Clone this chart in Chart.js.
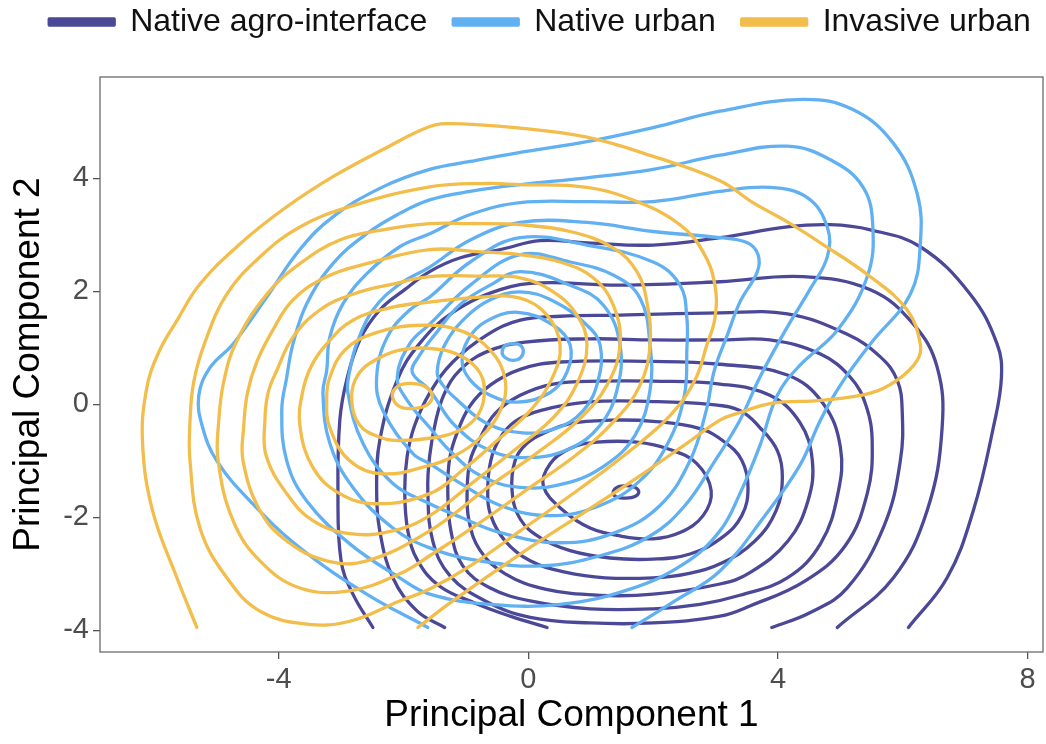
<!DOCTYPE html>
<html>
<head>
<meta charset="utf-8">
<script src="https://cdn.jsdelivr.net/npm/chart.js@4.4.1/dist/chart.umd.min.js"></script>
<style>
html,body{margin:0;padding:0;background:#ffffff;}
#wrap{width:1046px;height:744px;}
</style>
</head>
<body>
<div id="wrap"><canvas id="c" width="1046" height="744"></canvas></div>
<script>
// ---------- data ----------
const groups = ['Native agro-interface', 'Native urban', 'Invasive urban'];
const xTicks = [-4, 0, 4, 8];
const yTicks = [-4, -2, 0, 2, 4];
const xAxisLabel = 'Principal Component 1';
const yAxisLabel = 'Principal Component 2';

// Native agro-interface density contours (inner -> outer), [PC1, PC2]
const agro0 = [[1.36,-1.56],[1.42,-1.47],[1.57,-1.44],[1.71,-1.47],[1.77,-1.55],[1.71,-1.63],[1.57,-1.66],[1.41,-1.64],[1.36,-1.56]];
const agro1 = [[0.24,-1.44],[0.35,-1.05],[0.67,-0.78],[1.10,-0.67],[1.74,-0.67],[2.27,-0.80],[2.70,-1.05],[2.93,-1.53],[2.80,-1.97],[2.43,-2.27],[2.00,-2.38],[1.47,-2.33],[0.99,-2.19],[0.56,-1.88],[0.24,-1.44]];
const agro2 = [[-0.26,-1.53],[-0.21,-0.99],[-0.02,-0.69],[0.27,-0.50],[0.67,-0.34],[1.31,-0.28],[2.00,-0.30],[2.75,-0.43],[3.15,-0.67],[3.42,-0.99],[3.52,-1.47],[3.42,-1.97],[3.10,-2.36],[2.59,-2.65],[2.00,-2.74],[1.31,-2.72],[0.67,-2.59],[0.19,-2.36],[-0.13,-2.03],[-0.26,-1.53]];
const agro3 = [[-0.65,-1.53],[-0.60,-0.99],[-0.45,-0.59],[-0.21,-0.30],[0.19,-0.11],[0.94,0.04],[2.00,0.05],[2.91,0.00],[3.39,-0.11],[3.71,-0.41],[3.99,-0.82],[4.07,-1.30],[3.97,-1.88],[3.63,-2.42],[3.10,-2.81],[2.54,-3.00],[2.00,-3.07],[1.23,-3.07],[0.59,-2.97],[0.03,-2.77],[-0.37,-2.42],[-0.60,-1.97],[-0.65,-1.53]];
const agro4 = [[-0.98,-1.53],[-0.93,-0.99],[-0.77,-0.59],[-0.53,-0.16],[-0.13,0.16],[0.40,0.36],[1.15,0.41],[2.00,0.41],[3.07,0.36],[3.87,0.16],[4.35,-0.32],[4.55,-0.99],[4.48,-1.71],[4.16,-2.42],[3.55,-2.98],[3.07,-3.18],[2.00,-3.36],[1.15,-3.38],[0.27,-3.27],[-0.37,-3.00],[-0.77,-2.59],[-0.95,-2.06],[-0.98,-1.53]];
const agro5 = [[-1.29,-1.53],[-1.26,-0.96],[-1.14,-0.50],[-0.93,-0.02],[-0.61,0.34],[-0.13,0.62],[0.51,0.75],[2.00,0.76],[3.07,0.71],[4.15,0.52],[4.72,0.02],[5.00,-0.76],[4.96,-1.58],[4.68,-2.47],[4.15,-3.07],[3.39,-3.38],[2.75,-3.54],[2.00,-3.62],[0.99,-3.62],[0.03,-3.48],[-0.61,-3.25],[-1.05,-2.86],[-1.24,-2.24],[-1.29,-1.53]];
const agro6 = [[-1.61,-1.53],[-1.58,-0.91],[-1.48,-0.28],[-1.34,0.20],[-1.10,0.60],[-0.69,0.92],[-0.05,1.10],[0.99,1.16],[2.00,1.14],[3.07,1.14],[3.87,1.14],[4.68,0.89],[5.16,0.48],[5.41,-0.02],[5.51,-0.69],[5.43,-1.58],[5.08,-2.50],[4.43,-3.13],[3.55,-3.57],[3.07,-3.75],[2.00,-3.87],[0.99,-3.87],[0.03,-3.77],[-0.69,-3.48],[-1.25,-3.04],[-1.53,-2.42],[-1.61,-1.53]];
const agro7 = [[0.30,-3.95],[-0.29,-3.75],[-0.85,-3.52],[-1.42,-3.22],[-1.77,-2.77],[-1.93,-2.24],[-1.98,-1.53],[-1.94,-0.91],[-1.82,-0.37],[-1.58,0.20],[-1.21,0.75],[-0.66,1.23],[-0.13,1.49],[0.51,1.56],[1.47,1.58],[3.07,1.62],[4.15,1.60],[5.11,1.24],[5.64,0.84],[5.91,0.43],[5.99,-0.11],[5.96,-1.00],[5.70,-2.15],[5.11,-3.25],[4.51,-3.69],[3.90,-3.95]];
const agro8 = [[-1.34,-3.95],[-1.78,-3.66],[-2.17,-3.07],[-2.38,-2.24],[-2.43,-1.53],[-2.38,-0.64],[-2.10,0.43],[-1.74,1.08],[-1.21,1.63],[-0.45,2.03],[0.19,2.15],[1.47,2.11],[3.07,2.17],[4.40,2.26],[5.48,2.03],[6.17,1.42],[6.55,0.66],[6.63,-0.41],[6.39,-1.88],[5.85,-3.07],[4.95,-3.95]];
const agro9 = [[-2.49,-3.95],[-2.81,-3.36],[-3.00,-2.77],[-3.05,-1.53],[-3.02,-0.28],[-2.91,0.43],[-2.70,1.14],[-2.38,1.67],[-1.98,2.03],[-1.58,2.35],[-1.10,2.59],[-0.41,2.75],[0.19,2.90],[0.94,2.86],[2.00,2.82],[3.07,2.95],[4.15,3.14],[4.84,3.18],[5.48,3.09],[6.28,2.79],[7.08,1.95],[7.51,1.07],[7.58,0.48],[7.45,-0.41],[7.13,-1.88],[6.71,-3.07],[6.09,-3.95]];

// Native urban density contours
const urban0 = [[-0.42,0.92],[-0.36,1.05],[-0.25,1.07],[-0.13,1.05],[-0.08,0.94],[-0.13,0.82],[-0.25,0.78],[-0.36,0.82],[-0.42,0.92]];
const urban1 = [[-1.06,0.75],[-0.97,1.14],[-0.69,1.46],[-0.17,1.63],[0.40,1.40],[0.67,1.05],[0.62,0.57],[0.35,0.21],[-0.17,0.04],[-0.61,0.16],[-0.93,0.43],[-1.06,0.75]];
const urban2 = [[-1.46,0.57],[-1.34,1.05],[-1.01,1.53],[-0.61,1.85],[-0.13,1.99],[0.40,1.83],[0.94,1.40],[1.15,1.05],[1.12,0.43],[0.88,-0.11],[0.43,-0.43],[-0.13,-0.50],[-0.69,-0.32],[-1.13,0.07],[-1.37,0.34],[-1.46,0.57]];
const urban3 = [[-1.86,0.57],[-1.74,0.87],[-1.50,1.23],[-1.10,1.76],[-0.61,2.11],[-0.13,2.35],[0.67,2.11],[1.20,1.76],[1.47,1.05],[1.42,0.25],[1.15,-0.37],[0.67,-0.78],[0.03,-0.94],[-0.61,-0.82],[-1.18,-0.37],[-1.58,0.25],[-1.86,0.57]];
const urban4 = [[-2.10,0.48],[-1.90,1.07],[-1.58,1.42],[-0.93,2.11],[-0.13,2.65],[0.67,2.52],[1.36,2.29],[1.79,1.88],[1.95,1.05],[1.95,0.25],[1.71,-0.55],[1.23,-1.08],[0.59,-1.40],[-0.13,-1.47],[-0.77,-1.26],[-1.26,-0.82],[-1.58,-0.41],[-1.94,0.07],[-2.10,0.48]];
const urban5 = [[-2.43,0.48],[-2.26,1.19],[-1.90,1.67],[-1.58,1.90],[-0.93,2.52],[-0.13,2.95],[0.94,2.82],[2.00,2.52],[2.43,2.11],[2.54,1.53],[2.54,0.96],[2.50,0.16],[2.24,-0.68],[1.79,-1.35],[1.15,-1.79],[0.35,-1.97],[-0.45,-1.79],[-1.10,-1.39],[-1.58,-1.05],[-1.85,-0.87],[-2.33,-0.11],[-2.43,0.48]];
const urban6 = [[-2.86,0.60],[-2.75,1.07],[-2.49,1.67],[-2.06,2.13],[-1.58,2.43],[-0.93,2.91],[-0.13,3.22],[0.94,3.22],[2.00,3.06],[3.07,2.95],[3.51,2.86],[3.68,2.65],[3.67,2.35],[3.39,1.81],[3.19,1.23],[2.98,0.60],[2.85,-0.11],[2.59,-1.00],[2.11,-1.79],[1.39,-2.27],[0.51,-2.45],[-0.45,-2.27],[-1.10,-1.99],[-1.58,-1.76],[-2.17,-1.40],[-2.65,-0.69],[-2.89,0.20],[-2.86,0.60]];
const urban7 = [[-3.23,0.60],[-3.18,1.19],[-2.97,1.78],[-2.59,2.31],[-2.06,2.79],[-1.58,3.02],[-0.93,3.36],[-0.13,3.57],[0.94,3.59],[2.00,3.59],[3.07,3.77],[3.87,3.84],[4.47,3.66],[4.79,3.14],[4.79,2.61],[4.51,2.03],[4.15,1.37],[3.71,0.48],[3.39,-0.28],[2.99,-1.00],[2.51,-1.79],[1.95,-2.33],[1.15,-2.68],[0.19,-2.86],[-0.77,-2.77],[-1.58,-2.54],[-2.17,-2.19],[-2.81,-1.47],[-3.18,-0.69],[-3.29,0.20],[-3.23,0.60]];
const urban8 = [[-3.87,0.48],[-3.77,1.07],[-3.55,1.78],[-3.13,2.49],[-2.59,3.02],[-2.06,3.38],[-1.58,3.62],[-0.93,3.77],[-0.13,3.89],[0.94,4.01],[2.00,4.16],[3.07,4.41],[4.15,4.57],[4.84,4.33],[5.36,3.85],[5.52,3.14],[5.43,2.26],[4.95,1.31],[4.35,0.69],[3.99,0.16],[3.71,-0.73],[3.39,-1.58],[3.07,-2.24],[2.51,-2.81],[1.63,-3.27],[0.51,-3.54],[-0.61,-3.54],[-1.58,-3.36],[-2.06,-3.07],[-2.86,-2.47],[-3.55,-1.71],[-3.87,-1.00],[-3.95,-0.11],[-3.87,0.48]];
const urban9 = [[-1.61,-3.95],[-2.59,-3.36],[-3.66,-2.54],[-4.46,-1.71],[-4.99,-1.00],[-5.22,-0.40],[-5.28,0.15],[-5.10,0.65],[-4.73,1.07],[-4.19,1.90],[-3.66,2.74],[-3.13,3.32],[-2.33,3.85],[-1.58,4.16],[-0.93,4.30],[-0.13,4.46],[0.94,4.65],[2.00,4.90],[3.07,5.19],[4.40,5.40],[5.20,5.22],[5.85,4.62],[6.23,3.73],[6.28,2.84],[6.12,1.95],[5.48,1.07],[5.00,0.34],[4.68,-0.28],[4.35,-1.08],[3.79,-1.97],[3.07,-2.95],[2.35,-3.48],[1.66,-3.95]];

// Invasive urban density contours
const invasive0 = [[-2.18,0.16],[-2.09,0.32],[-1.90,0.37],[-1.66,0.32],[-1.54,0.16],[-1.61,0.00],[-1.82,-0.07],[-2.06,-0.04],[-2.18,0.16]];
const invasive1 = [[-2.83,0.12],[-2.73,0.52],[-2.46,0.78],[-2.06,0.96],[-1.58,0.99],[-1.10,0.87],[-0.77,0.55],[-0.71,0.12],[-0.85,-0.25],[-1.18,-0.50],[-1.58,-0.60],[-2.06,-0.64],[-2.33,-0.60],[-2.70,-0.37],[-2.83,0.12]];
const invasive2 = [[-3.23,0.12],[-3.18,0.48],[-2.94,0.96],[-2.46,1.26],[-1.74,1.40],[-1.10,1.31],[-0.61,0.96],[-0.37,0.43],[-0.45,-0.11],[-0.77,-0.59],[-1.18,-0.91],[-1.58,-1.08],[-2.33,-1.23],[-2.86,-1.00],[-3.18,-0.41],[-3.23,0.12]];
const invasive3 = [[-3.66,-0.37],[-3.61,0.25],[-3.47,0.69],[-3.23,1.07],[-2.81,1.49],[-2.17,1.72],[-1.58,1.81],[-0.77,1.90],[-0.13,1.88],[0.30,1.58],[0.51,1.05],[0.38,0.46],[0.03,-0.11],[-0.50,-0.64],[-1.06,-1.17],[-1.58,-1.58],[-2.43,-1.76],[-3.02,-1.58],[-3.45,-1.12],[-3.66,-0.37]];
const invasive4 = [[-4.20,-0.91],[-4.22,-0.28],[-4.17,0.20],[-4.03,0.60],[-3.77,1.19],[-3.34,1.67],[-2.81,1.95],[-2.17,2.13],[-1.58,2.26],[-0.77,2.27],[-0.13,2.24],[0.40,1.99],[0.78,1.58],[0.94,1.05],[0.78,0.37],[0.43,-0.20],[-0.13,-0.73],[-0.85,-1.35],[-1.58,-1.97],[-2.17,-2.24],[-2.86,-2.29],[-3.45,-2.06],[-3.87,-1.58],[-4.20,-0.91]];
const invasive5 = [[-4.56,-0.40],[-4.50,0.20],[-4.35,0.75],[-4.10,1.30],[-3.77,1.85],[-3.23,2.26],[-2.59,2.49],[-1.58,2.74],[-0.77,2.70],[-0.13,2.65],[0.51,2.52],[1.04,2.24],[1.36,1.76],[1.47,1.05],[1.26,0.34],[0.83,-0.25],[0.19,-0.82],[-0.61,-1.44],[-1.58,-2.24],[-2.59,-2.77],[-3.23,-2.77],[-3.87,-2.42],[-4.30,-1.88],[-4.57,-1.00],[-4.56,-0.40]];
const invasive6 = [[-4.96,-0.30],[-4.88,0.40],[-4.68,1.10],[-4.19,1.95],[-3.66,2.49],[-3.02,2.91],[-2.33,3.09],[-1.58,3.20],[-0.93,3.20],[-0.13,3.18],[0.67,3.06],[1.36,2.77],[1.74,2.35],[1.90,1.81],[1.95,1.05],[1.79,0.34],[1.39,-0.28],[0.75,-0.91],[-0.05,-1.53],[-0.85,-2.15],[-1.58,-2.68],[-2.06,-3.00],[-2.86,-3.30],[-3.66,-3.25],[-4.30,-2.77],[-4.73,-2.06],[-4.97,-1.00],[-4.96,-0.30]];
const invasive7 = [[-5.42,-0.30],[-5.36,0.40],[-5.18,1.10],[-4.83,1.95],[-4.30,2.61],[-3.66,3.14],[-2.86,3.50],[-1.58,3.85],[-0.66,3.91],[-0.13,3.89],[0.94,3.84],[1.74,3.59],[2.43,3.18],[2.80,2.70],[2.99,2.11],[2.99,1.53],[2.86,1.05],[2.67,0.43],[2.27,-0.20],[1.63,-0.82],[0.83,-1.49],[-0.13,-2.24],[-0.93,-2.86],[-1.58,-3.27],[-2.06,-3.48],[-2.86,-3.84],[-3.55,-3.89],[-4.30,-3.66],[-4.83,-3.07],[-5.26,-2.19],[-5.42,-1.00],[-5.42,-0.30]];
const invasive8 = [[-5.31,-3.95],[-5.63,-3.07],[-6.02,-1.88],[-6.18,-0.69],[-6.12,0.25],[-5.93,0.90],[-5.62,1.50],[-5.26,2.13],[-4.62,2.84],[-3.93,3.45],[-3.13,4.03],[-2.33,4.51],[-1.58,4.92],[-1.21,4.97],[-0.13,4.89],[0.94,4.73],[2.00,4.39],[3.07,3.96],[3.60,3.57],[4.15,3.23],[4.68,2.86],[5.48,2.26],[6.07,1.67],[6.28,1.07],[6.23,0.78],[5.91,0.43],[5.48,0.20],[4.68,0.07],[3.92,0.02],[3.35,-0.16],[3.07,-0.28],[2.54,-0.69],[1.74,-1.30],[0.94,-1.88],[-0.13,-2.65],[-1.21,-3.48],[-1.77,-3.95]];

const agroContours = [agro0, agro1, agro2, agro3, agro4, agro5, agro6, agro7, agro8, agro9];
const urbanContours = [urban0, urban1, urban2, urban3, urban4, urban5, urban6, urban7, urban8, urban9];
const invasiveContours = [invasive0, invasive1, invasive2, invasive3, invasive4, invasive5, invasive6, invasive7, invasive8];

// ---------- styling ----------
const groupColors = ['#4B4897', '#61B0F1', '#F2BD4A'];
const FONT = "'Liberation Sans', Arial, Helvetica, sans-serif";

const datasets = [];
[agroContours, urbanContours, invasiveContours].forEach((set, g) => {
  set.forEach((pts, k) => {
    const first = pts[0], last = pts[pts.length - 1];
    const closed = first[0] === last[0] && first[1] === last[1];
    const usePts = closed ? pts.slice(0, -1) : pts;
    datasets.push({
      label: groups[g],
      data: usePts.map(p => ({ x: p[0], y: p[1] })),
      showLine: true,
      fill: false,
      borderColor: groupColors[g],
      backgroundColor: groupColors[g],
      borderWidth: 3.3,
      borderCapStyle: 'round',
      borderJoinStyle: 'round',
      pointRadius: 0,
      pointHoverRadius: 0,
      tension: 0.4,
      order: 3 - g,
      closedLoop: closed,
      firstOfGroup: k === 0
    });
  });
});

// closed density contours are drawn as smooth closed curves
const closedLoops = {
  id: 'closedLoops',
  afterDatasetsUpdate(chart) {
    chart.data.datasets.forEach((ds, i) => {
      const meta = chart.getDatasetMeta(i);
      if (meta && meta.dataset) {
        meta.dataset._loop = !!ds.closedLoop;
        meta.dataset._fullLoop = !!ds.closedLoop;
        meta.dataset._pointsUpdated = false;
      }
    });
  }
};

const legendSpacing = {
  id: 'legendSpacing',
  afterInit(chart) {
    const lg = chart.legend;
    if (!lg) return;
    const origFit = lg.fit;
    lg.fit = function () { origFit.call(this); this.height += 9; };
  },
  afterLayout(chart) {
    const lg = chart.legend;
    if (!lg) return;
    lg.top -= 20; lg.bottom -= 20;
    lg.left += 18.5; lg.right += 18.5;
  }
};

const panelFrame = {
  id: 'panelFrame',
  afterDraw(chart) {
    const { ctx, chartArea: a } = chart;
    ctx.save();
    ctx.strokeStyle = '#6b6b6b';
    ctx.lineWidth = 1.3;
    ctx.strokeRect(a.left, a.top, a.right - a.left, a.bottom - a.top);
    ctx.restore();
  }
};

new Chart(document.getElementById('c'), {
  type: 'scatter',
  data: { datasets },
  options: {
    responsive: false,
    animation: false,
    devicePixelRatio: 1,
    layout: { padding: { left: 0, right: 3, top: 0, bottom: 0 } },
    plugins: {
      tooltip: { enabled: false },
      legend: {
        display: true,
        position: 'top',
        labels: {
          font: { family: FONT, size: 32 },
          color: '#111111',
          boxWidth: 65,
          boxHeight: 6,
          padding: 26,
          filter: (item, data) => data.datasets[item.datasetIndex].firstOfGroup,
          sort: (a, b) => a.datasetIndex - b.datasetIndex
        }
      }
    },
    scales: {
      x: {
        type: 'linear',
        min: -6.862,
        max: 8.246,
        afterBuildTicks: s => { s.ticks = xTicks.map(v => ({ value: v })); },
        afterFit: s => { s.height = 92; },
        ticks: { font: { family: FONT, size: 29 }, color: '#4D4D4D', padding: 4, maxRotation: 0, autoSkip: false, callback: v => String(v) },
        grid: { drawOnChartArea: false, drawTicks: true, tickLength: 7, color: '#555555', lineWidth: 1.3 },
        border: { display: false },
        title: { display: true, text: xAxisLabel, font: { family: FONT, size: 37 }, color: '#000000', padding: { top: 0, bottom: 6 } }
      },
      y: {
        type: 'linear',
        min: -4.384,
        max: 5.795,
        afterBuildTicks: s => { s.ticks = yTicks.map(v => ({ value: v })); },
        afterFit: s => { s.width = 100; },
        ticks: { font: { family: FONT, size: 29 }, color: '#4D4D4D', padding: 4, autoSkip: false, callback: v => String(v) },
        grid: { drawOnChartArea: false, drawTicks: true, tickLength: 7, color: '#555555', lineWidth: 1.3 },
        border: { display: false },
        title: { display: true, text: yAxisLabel, font: { family: FONT, size: 37 }, color: '#000000', padding: { top: 7, bottom: 0 } }
      }
    }
  },
  plugins: [closedLoops, legendSpacing, panelFrame]
});
</script>
</body>
</html>
